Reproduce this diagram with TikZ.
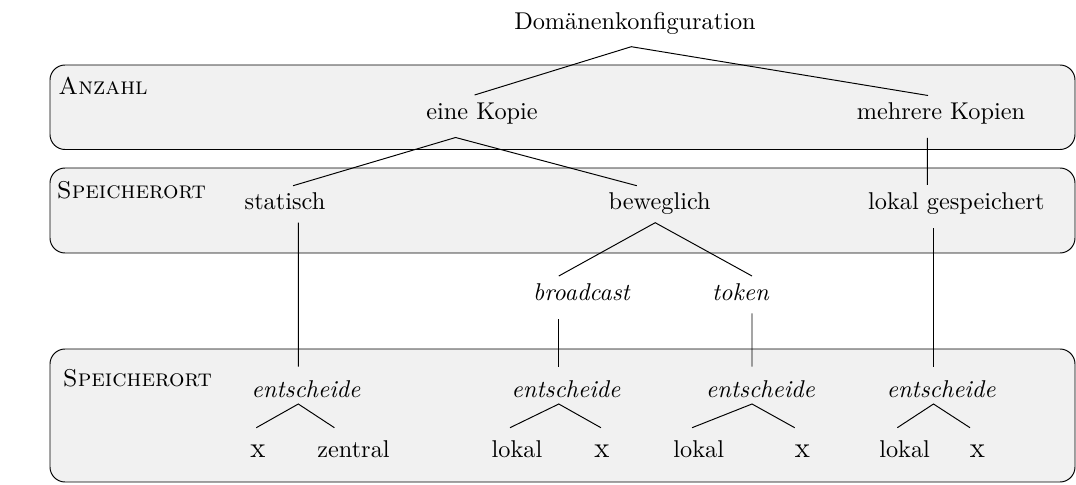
\documentclass[tikz,border=0pt]{standalone}
\usepackage{tikz}
\definecolor{boxfill}{RGB}{241,241,241}
\tikzset{
  band/.style={draw=black, line width=0.4pt, fill=boxfill, rounded corners=6.2pt},
  lbl/.style={inner sep=0pt, anchor=base},
  tag/.style={inner sep=0pt, anchor=base west, font=\scshape},
  it/.style={lbl, font=\itshape},
  xx/.style={lbl, font=\large},
  edge/.style={draw=black, line width=0.4pt}
}
\begin{document}
\begin{tikzpicture}[x=0.4115pt, y=-0.4115pt]
  \useasboundingbox (0,0) rectangle (1076,485);

  % horizontal bands
  \path[band] (50,65) rectangle (1075,149.5);
  \path[band] (50,168) rectangle (1075,253);
  \path[band] (50,349) rectangle (1075,482);

  \node[tag] (anzahl) at (58,95) {Anzahl};
  \node[tag] (ort1) at (56.5,198.3) {Speicherort};
  \node[tag] (ort2) at (62.5,386.8) {Speicherort};

  % tree nodes
  \node[lbl] (root) at (635,29.5) {Domänenkonfiguration};
  \node[lbl] (ek) at (482,119.5) {eine Kopie};
  \node[lbl] (mk) at (941,119.5) {mehrere Kopien};
  \node[lbl] (st) at (285,210) {statisch};
  \node[lbl] (bw) at (659.7,210) {beweglich};
  \node[lbl] (lg) at (956.4,210) {lokal gespeichert};
  \node[it] (bc) at (581.5,300.7) {broadcast};
  \node[it] (tk) at (740.4,300.7) {token};
  \node[it] (e1) at (306,397.7) {entscheide};
  \node[it] (e2) at (566,397.7) {entscheide};
  \node[it] (e3) at (760.5,397.7) {entscheide};
  \node[it] (e4) at (941.2,397.7) {entscheide};
  \node[xx] (x1) at (258,457.5) {x};
  \node[lbl] (z1) at (353.5,457.5) {zentral};
  \node[lbl] (l2) at (517,457.5) {lokal};
  \node[xx] (x2) at (602,457.5) {x};
  \node[lbl] (l3) at (698.7,457.5) {lokal};
  \node[xx] (x3) at (802.4,457.5) {x};
  \node[lbl] (l4) at (904.6,457.5) {lokal};
  \node[xx] (x4) at (977.5,457.5) {x};

  % edges
  \draw[edge] ([shift={(-7.4,-24.5)}]ek.base) -- ([shift={(-3.7,17.2)}]root.base)
              -- ([shift={(-13,-24)}]mk.base);
  \draw[edge] ([shift={(8.1,-24.3)}]st.base) -- ([shift={(-26.4,18)}]ek.base)
              -- ([shift={(-22.9,-24.3)}]bw.base);
  \draw[edge] ([shift={(-13.6,18.5)}]mk.base) -- ([shift={(-29,-25)}]lg.base);
  \draw[edge] ([shift={(-22.7,-24.7)}]bc.base) -- ([shift={(-4.5,12.7)}]bw.base)
              -- ([shift={(11.6,-24.7)}]tk.base);
  \draw[edge] ([shift={(13.3,12.7)}]st.base) -- ([shift={(-7.7,-31)}]e1.base);
  \draw[edge] ([shift={(-22.7,18.6)}]bc.base) -- ([shift={(-7.2,-31)}]e2.base);
  \draw[edge] ([shift={(11.6,12.6)}]tk.base) -- ([shift={(-8.5,-31)}]e3.base);
  \draw[edge] ([shift={(-22.9,18.3)}]lg.base) -- ([shift={(-7.7,-31)}]e4.base);

  \draw[edge] ([shift={(-1.7,-29.8)}]x1.base) -- ([shift={(-7.7,6.3)}]e1.base)
              -- ([shift={(-19.1,-29.8)}]z1.base);
  \draw[edge] ([shift={(-7,-29.8)}]l2.base) -- ([shift={(-7.2,6.3)}]e2.base)
              -- ([shift={(-1.1,-29.8)}]x2.base);
  \draw[edge] ([shift={(-6.6,-29.8)}]l3.base) -- ([shift={(-8.5,6.3)}]e3.base)
              -- ([shift={(-7.7,-29.8)}]x3.base);
  \draw[edge] ([shift={(-7.3,-29.8)}]l4.base) -- ([shift={(-7.7,6.3)}]e4.base)
              -- ([shift={(-7.5,-29.8)}]x4.base);
\end{tikzpicture}
\end{document}
